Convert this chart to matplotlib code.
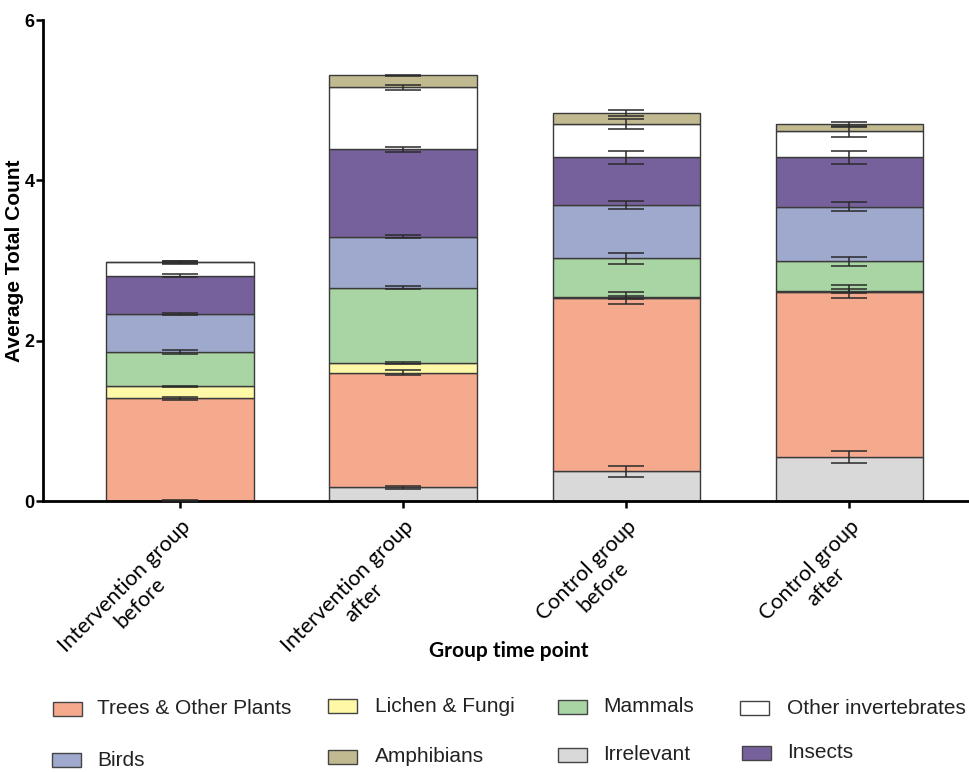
import numpy as np
import matplotlib
matplotlib.use('Agg')
import matplotlib.pyplot as plt
from matplotlib.patches import Rectangle

# 数据：每组各类别的平均数（自下而上堆叠）
groups = ['Intervention group\nbefore', 'Intervention group\nafter',
          'Control group\nbefore', 'Control group\nafter']
categories = ['Irrelevant', 'Trees & Other Plants', 'Lichen & Fungi', 'Mammals',
              'Birds', 'Insects', 'Other invertebrates', 'Amphibians']

irrelevant = [0.00, 0.17, 0.37, 0.55]
trees = [1.28, 1.43, 2.16, 2.06]
lichen = [0.15, 0.12, 0.01, 0.01]
mammals = [0.43, 0.94, 0.49, 0.37]
birds = [0.47, 0.64, 0.66, 0.68]
insects = [0.48, 1.09, 0.60, 0.62]
other_inv = [0.17, 0.77, 0.41, 0.32]
amphibians = [0.00, 0.15, 0.14, 0.09]

# 误差（每段顶部）
err_irrelevant = [0.01, 0.02, 0.07, 0.08]
err_trees = [0.02, 0.03, 0.075, 0.08]
err_lichen = [0.01, 0.01, 0.02, 0.02]
err_mammals = [0.02, 0.02, 0.07, 0.055]
err_birds = [0.01, 0.02, 0.05, 0.055]
err_insects = [0.02, 0.03, 0.08, 0.08]
err_other_inv = [0.02, 0.03, 0.06, 0.07]
err_amphibians = [0.01, 0.01, 0.04, 0.03]

colors = ['#d9d9d9', '#f5aa8d', '#fff8a6', '#a9d4a3', '#9ea9cd', '#77619c', '#ffffff', '#c1b98f']

values = [irrelevant, trees, lichen, mammals, birds, insects, other_inv, amphibians]
errors = [err_irrelevant, err_trees, err_lichen, err_mammals, err_birds,
          err_insects, err_other_inv, err_amphibians]

W, H = 970, 772
fig = plt.figure(figsize=(9.7, 7.72), dpi=100)
ax = fig.add_axes([0.0443, 0.351, 0.96, 0.623])

x = np.arange(len(groups))
bottom = np.zeros(len(groups))
for vals, errs, c in zip(values, errors, colors):
    vals = np.array(vals)
    ax.bar(x, vals, width=0.66, bottom=bottom, color=c, edgecolor='#3a3a3a', linewidth=1.0, zorder=2)
    top = bottom + vals
    ax.errorbar(x, top, yerr=errs, fmt='none', ecolor='#2b2b2b', elinewidth=1.3,
                capsize=13, capthick=1.3, alpha=0.85, zorder=3)
    bottom = top

ax.set_xlim(-0.614, 3.56)
ax.set_ylim(0, 6)
ax.set_yticks([0, 2, 4, 6])
ax.set_yticklabels(['0', '2', '4', '6'], fontsize=13, fontweight='bold', family='Liberation Sans')
ax.set_xticks(x)
ax.set_xticklabels(groups, rotation=45, ha='right', rotation_mode='anchor',
                   fontsize=15.5, family='Lato', multialignment='center')
ax.spines['top'].set_visible(False)
ax.spines['right'].set_visible(False)
ax.spines['left'].set_linewidth(2)
ax.spines['bottom'].set_linewidth(2)
ax.tick_params(axis='both', width=1.8, length=5, direction='out')
ax.tick_params(axis='y', pad=1)
ax.tick_params(axis='x', pad=6)
ax.set_ylabel('Average Total Count', fontsize=15, fontweight='bold', family='Liberation Sans')
ax.yaxis.set_label_coords(-0.02, 0.5)
ax.set_xlabel('Group time point', fontsize=15, fontweight='bold', family='Lato')
ax.xaxis.set_label_coords(0.5, -0.291)

# 图例：手动摆放（左边x, 中心y, 文字x）
legend_pos = {
    'Trees & Other Plants': (53, 709, 97),
    'Birds': (52, 760, 97),
    'Lichen & Fungi': (328, 706, 375),
    'Amphibians': (328, 757, 375),
    'Mammals': (558, 707, 603),
    'Irrelevant': (558, 755, 603),
    'Other invertebrates': (740, 708, 787),
    'Insects': (742, 753, 787),
}
color_map = dict(zip(categories, colors))
for name, (px, py, tx) in legend_pos.items():
    fig.add_artist(Rectangle((px / W, 1 - (py + 7) / H), 29 / W, 14 / H,
                             transform=fig.transFigure, facecolor=color_map[name],
                             edgecolor='#444444', linewidth=1.0))
    fig.text(tx / W, 1 - py / H, name, fontsize=15, family='Liberation Sans',
             color='#222222', va='center', ha='left')

fig.savefig('out.png', dpi=100)
